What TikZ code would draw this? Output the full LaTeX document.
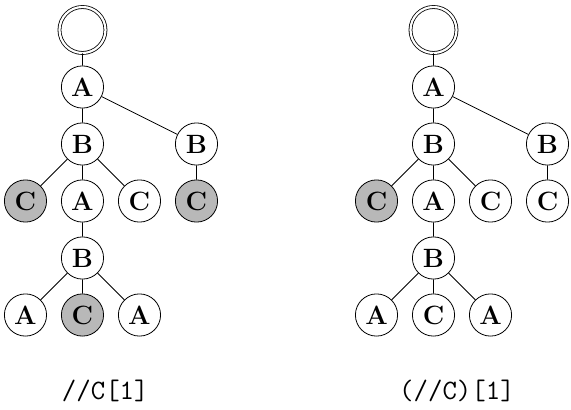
\documentclass[tikz,border=0pt]{standalone}
\usetikzlibrary{positioning}

\begin{document}
\begin{tikzpicture}[
			node distance=1cm and 1cm,
			on grid,
			vertex/.style={circle,draw,fill=white,minimum size=0.74cm,inner sep=0pt,
					font=\bfseries\fontsize{13.2}{15}\selectfont},
			hit/.style={vertex,fill=black!28},
			rootnode/.style={circle,draw,double,double distance=1.1pt,minimum size=0.807cm,inner sep=0pt},
			query/.style={font=\ttfamily\fontsize{14}{16}\selectfont}
		]
		\useasboundingbox (-1.447,0.526) rectangle (8.570,-6.649);
		% //C[1]
		\node[rootnode] (lroot) at (0,0) {};
		\node[vertex] (la) [below=of lroot] {A};
		\node[vertex] (lb) [below=of la] {B};
		\node[vertex] (lbr) [right=2cm of lb] {B};
		\node[hit] (lc1) [below left=of lb] {C};
		\node[vertex] (la2) [below=of lb] {A};
		\node[vertex] (lc2) [below right=of lb] {C};
		\node[hit] (lcr) [below=of lbr] {C};
		\node[vertex] (lb2) [below=of la2] {B};
		\node[vertex] (la3) [below left=of lb2] {A};
		\node[hit] (lc3) [below=of lb2] {C};
		\node[vertex] (la4) [below right=of lb2] {A};
		\draw (lroot) -- (la) (la) -- (lb) (la) -- (lbr);
		\draw (lb) -- (lc1) (lb) -- (la2) (lb) -- (lc2) (lbr) -- (lcr);
		\draw (la2) -- (lb2) (lb2) -- (la3) (lb2) -- (lc3) (lb2) -- (la4);
		% (//C)[1]
		\node[rootnode] (rroot) at (6.158,0) {};
		\node[vertex] (ra) [below=of rroot] {A};
		\node[vertex] (rb) [below=of ra] {B};
		\node[vertex] (rbr) [right=2cm of rb] {B};
		\node[hit] (rc1) [below left=of rb] {C};
		\node[vertex] (ra2) [below=of rb] {A};
		\node[vertex] (rc2) [below right=of rb] {C};
		\node[vertex] (rcr) [below=of rbr] {C};
		\node[vertex] (rb2) [below=of ra2] {B};
		\node[vertex] (ra3) [below left=of rb2] {A};
		\node[vertex] (rc3) [below=of rb2] {C};
		\node[vertex] (ra4) [below right=of rb2] {A};
		\draw (rroot) -- (ra) (ra) -- (rb) (ra) -- (rbr);
		\draw (rb) -- (rc1) (rb) -- (ra2) (rb) -- (rc2) (rbr) -- (rcr);
		\draw (ra2) -- (rb2) (rb2) -- (ra3) (rb2) -- (rc3) (rb2) -- (ra4);
		\node[query] (lcap) at (0.4,-6.33) {//C[1]};
		\node[query] (rcap) at (6.57,-6.33) {(//C)[1]};
	\end{tikzpicture}
\end{document}
